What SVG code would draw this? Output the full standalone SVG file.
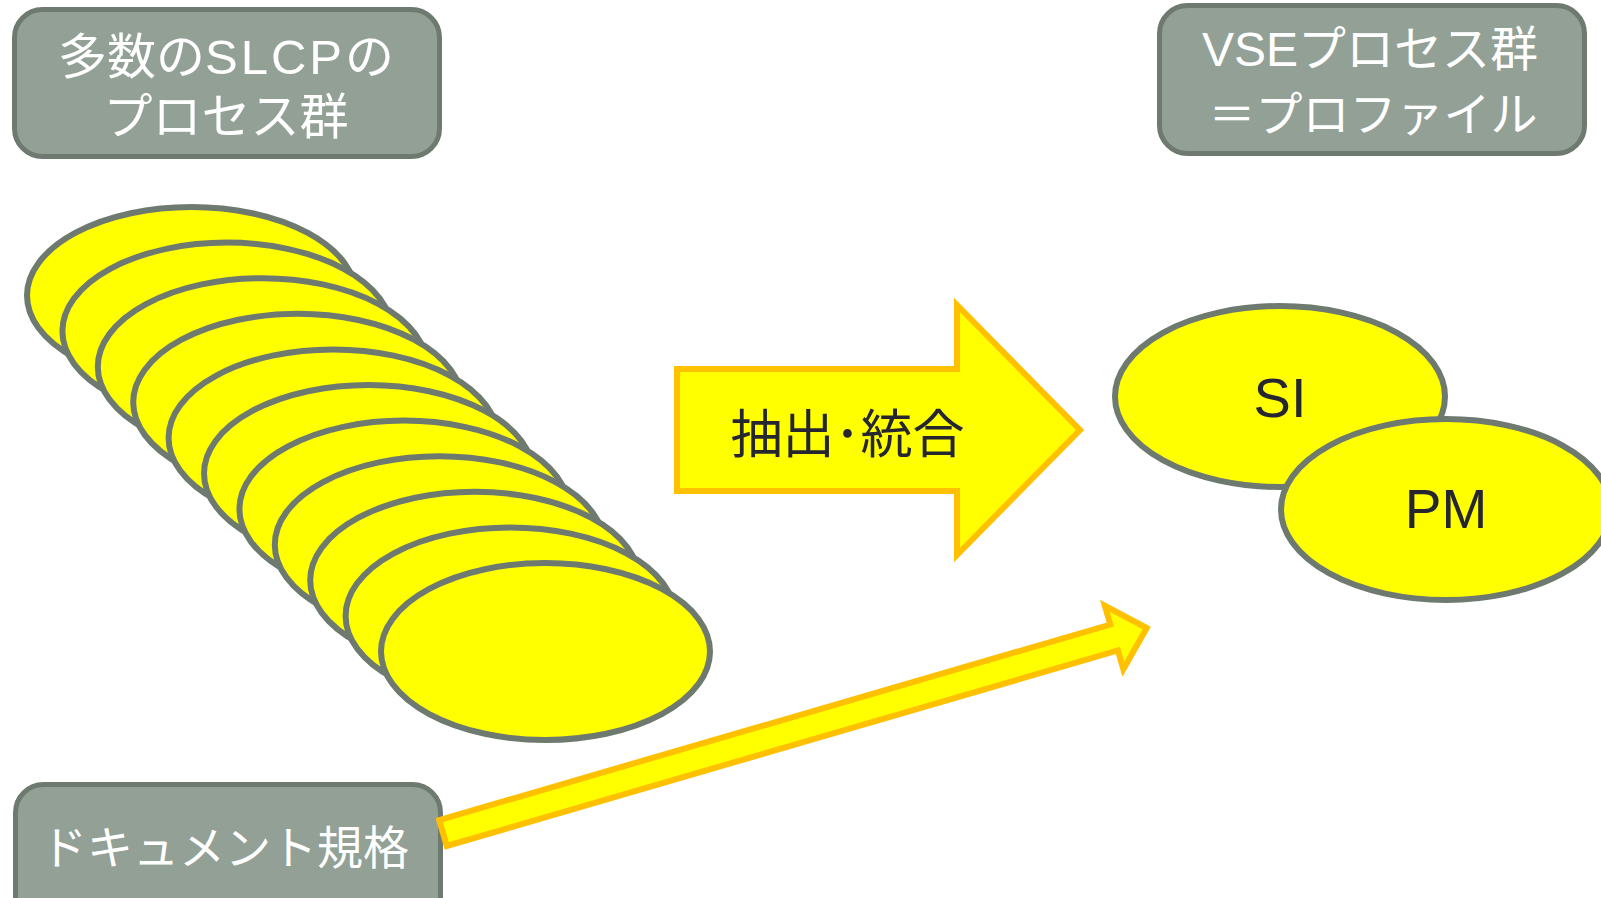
<svg xmlns="http://www.w3.org/2000/svg" width="1601" height="898" viewBox="0 0 1601 898">
<style>
.box{fill:#92A096;stroke:#6E7A70;stroke-width:5}
.lbl{fill:#FFFFFF;font-family:"Liberation Sans","Noto Sans CJK JP",sans-serif;text-anchor:middle}
.ell{fill:#FFFF00;stroke:#6E7A70;stroke-width:6}
.arr{fill:#FFFF00;stroke:#FFC000;stroke-width:6;stroke-linejoin:miter}
.dark{fill:#262630;font-family:"Liberation Sans","Noto Sans CJK JP",sans-serif;text-anchor:middle}
</style>
<rect width="1601" height="898" fill="#FFFFFF"/>
<g id="slcp-stack">
<ellipse class="ell" cx="191.5" cy="295.5" rx="164.5" ry="88.5"/>
<ellipse class="ell" cx="226.9" cy="331.1" rx="164.5" ry="88.5"/>
<ellipse class="ell" cx="262.3" cy="366.7" rx="164.5" ry="88.5"/>
<ellipse class="ell" cx="297.7" cy="402.3" rx="164.5" ry="88.5"/>
<ellipse class="ell" cx="333.1" cy="437.9" rx="164.5" ry="88.5"/>
<ellipse class="ell" cx="368.5" cy="473.5" rx="164.5" ry="88.5"/>
<ellipse class="ell" cx="403.9" cy="509.1" rx="164.5" ry="88.5"/>
<ellipse class="ell" cx="439.3" cy="544.7" rx="164.5" ry="88.5"/>
<ellipse class="ell" cx="474.7" cy="580.3" rx="164.5" ry="88.5"/>
<ellipse class="ell" cx="510.1" cy="615.9" rx="164.5" ry="88.5"/>
<ellipse class="ell" cx="545.5" cy="651.5" rx="164.5" ry="88.5"/>
</g>
<g id="box-slcp">
<rect class="box" x="14.5" y="9.5" width="425" height="147" rx="28" ry="28"/>
<text class="lbl" x="226" y="74" font-size="49">多数の<tspan letter-spacing="3">SLCP</tspan>の</text>
<text class="lbl" x="226" y="134" font-size="49">プロセス群</text>
</g>
<g id="box-vse">
<rect class="box" x="1159.5" y="5.5" width="425" height="148" rx="28" ry="28"/>
<text class="lbl" x="1370" y="66" font-size="48">VSEプロセス群</text>
<text class="lbl" x="1373" y="131" font-size="47">＝プロファイル</text>
</g>
<g id="box-doc">
<rect class="box" x="15.5" y="784.5" width="425" height="147" rx="28" ry="28"/>
<text class="lbl" x="225" y="864" font-size="46">ドキュメント規格</text>
</g>
<g id="connectors">
<g id="arrow-extract">
<polygon class="arr" points="677,369 957,369 957,305 1080,430 957,555 957,491 677,491"/>
<text class="dark" x="847.5" y="453" font-size="52">抽出･統合</text>
</g>
<g id="arrow-doc">
<polygon class="arr" transform="translate(443,833) rotate(-16.24)" points="0,-13.5 699,-13.5 699,-33 733,0 699,33 699,13.5 0,13.5"/>
</g>
</g>
<g id="node-si">
<ellipse class="ell" cx="1280" cy="396.5" rx="165" ry="90.5"/>
<text class="dark" x="1280" y="417" font-size="56">SI</text>
</g>
<g id="node-pm">
<ellipse class="ell" cx="1446" cy="509.5" rx="165" ry="90.5"/>
<text class="dark" x="1446" y="528" font-size="55">PM</text>
</g>
</svg>
